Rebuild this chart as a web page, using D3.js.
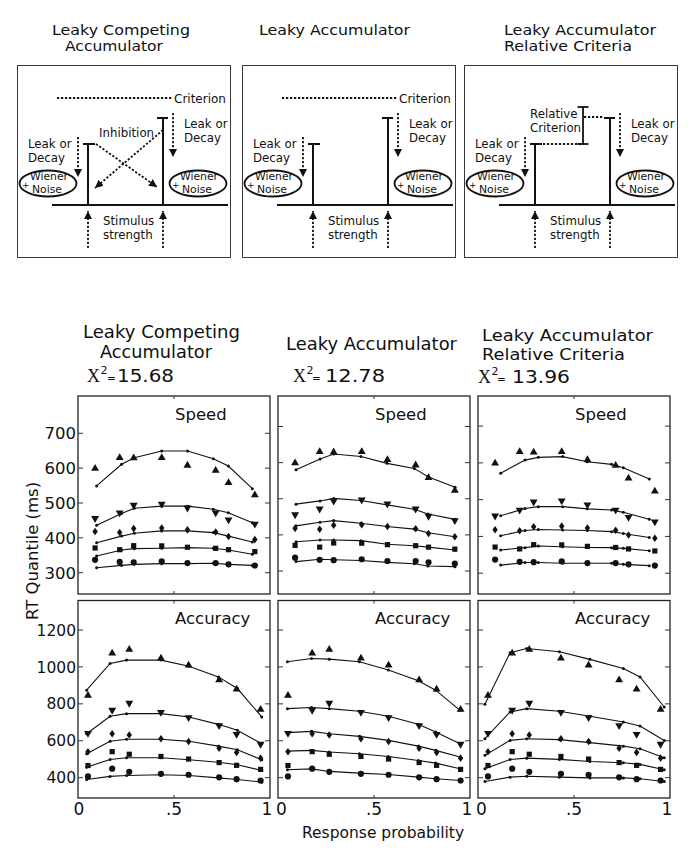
<!DOCTYPE html>
<html><head><meta charset="utf-8">
<script src="https://cdn.jsdelivr.net/npm/d3@7"></script>
<style>body{margin:0;background:#fff}svg{display:block}text{font-family:"DejaVu Sans",sans-serif;fill:#111}</style>
</head><body>
<svg id="c" width="693" height="856"></svg>
<script>
// ---------------- data ----------------
const topTitles = [["Leaky Competing","Accumulator"],["Leaky Accumulator"],["Leaky Accumulator","Relative Criteria"]];
const chiSquare = ["15.68","12.78","13.96"];
const conditions = ["Speed","Accuracy"];
const quantiles = [".1",".3",".5",".7",".9"];
const speedTicks = [300,400,500,600,700];
const accuracyTicks = [400,600,800,1000,1200];
const xTickValues = [0,0.5,1];
const xTickLabels = ["0",".5","1"];

// observed response probabilities (x) and RT quantiles
const speedObsP = [0.089,0.217,0.29,0.436,0.57,0.717,0.784,0.921];
const accObsP   = [0.052,0.178,0.267,0.432,0.576,0.735,0.826,0.951];
const speedObs = [
  [337,331,330,332.5,327.6,327.6,324,320.7],
  [371,366,377.5,377,373,370,366,360.5],
  [418,415.5,426.5,428,423,417,404,395],
  [456,472,494,497,486,472,452,440],
  [599,630,629,630,608,593,558,523]
];
const accObs = [
  [407,449,432,421,416,402,392,385],
  [466,541,527,515,501,482,467,445],
  [541,638,631,611,596,560,537,506],
  [641,766,804,755,726,683,635,582],
  [845,1074,1094,1047,1009,929,879,769]
];

// model fits
const lcaSpeedP = [0.097,0.227,0.293,0.436,0.571,0.705,0.783,0.908];
const lcaSpeedFit = [
  [314,321,324,326,326,327,324,321],
  [348,365,369,370,372,370,365,353],
  [386,405,413,420,420,415,405,388],
  [436,470,485,491,491,482,472,443],
  [549,611,630,649,649,627,606,541]
];
const laSpeedP = [0.094,0.219,0.29,0.432,0.568,0.71,0.781,0.922];
const laSpeedFit = [
  [326,332.5,331,329,324,320,314,312],
  [381,386,386,384,374,370,366,358],
  [425,435,439.5,432,423,416,406,395],
  [485,494,501,495,483,471,458,443],
  [580,610,624,617,598,584,561,532]
];
const larcSpeedP = [0.118,0.245,0.314,0.441,0.569,0.696,0.757,0.892];
const larcSpeedFit = [
  [322,329,329,327,327,327,324,320.5],
  [363,369.5,374,372,370,369.5,367.6,361],
  [402,416,419,417.5,416,413,408,397],
  [456,476,481,481,475,472,465.5,446.5],
  [572,607.5,615,617,603,596,587,556]
];
const lcaAccP = [0.045,0.167,0.253,0.432,0.578,0.731,0.83,0.957];
const lcaAccFit = [
  [390,407,412,416,412,399,390,376],
  [457,499,508,508,497,484,470,439],
  [530,597,608,608,597,571,551,497],
  [638,733,747,747,729,689,657,584],
  [874,1019,1037,1037,1004,946,883,729]
];
const laAccP = [0.049,0.175,0.267,0.424,0.575,0.731,0.821,0.948];
const laAccFit = [
  [443,448,434,425,417,403,394,385],
  [544,548,539,530,515,493,479,448],
  [644,651,638,624,602,571,548,512],
  [774,780,774,760,733,689,647,584],
  [1028,1046,1042,1028,983,925,874,765]
];
const larcAccP = [0.036,0.167,0.254,0.424,0.583,0.757,0.844,0.97];
const larcAccFit = [
  [379,403,408,403,399,399,394,379],
  [448,499,506,499,488,481,472,443],
  [521,602,611,606,590,571,557,508],
  [611,756,774,760,733,702,680,602],
  [798,1077,1100,1082,1041,992,946,783]
];

// ---------------- layout ----------------
const svg = d3.select("#c");
const ink = "#111";
svg.append("defs").append("marker").attr("id","ah")
  .attr("markerUnits","userSpaceOnUse").attr("markerWidth",9).attr("markerHeight",8)
  .attr("refX",8).attr("refY",4).attr("orient","auto")
  .append("path").attr("d","M0,0L8,4L0,8Z").attr("fill",ink);

function txt(g,s,x,y,size,opts={}){
  const t=g.append("text").attr("x",x).attr("y",y).style("font-size",size+"px").text(s);
  if(opts.anchor) t.attr("text-anchor",opts.anchor);
  if(opts.family) t.style("font-family",opts.family);
  if(opts.width) t.attr("textLength",opts.width).attr("lengthAdjust","spacingAndGlyphs");
  return t;
}
function ln(g,x1,y1,x2,y2,w,dotted,arrow){
  const l=g.append("line").attr("x1",x1).attr("y1",y1).attr("x2",x2).attr("y2",y2)
    .attr("stroke",ink).attr("stroke-width",w);
  if(dotted) l.attr("stroke-dasharray","2.2,1.8");
  if(arrow) l.attr("marker-end","url(#ah)");
  return l;
}

// ---------------- top diagrams ----------------
const boxX = [17,242,464];
// [x, baseline, width] per title line
const titleTop = [[[52,34.5,138],[65,50.5,98]],[[259,34.5,151]],[[504,34.5,152],[504,50.5,128]]];
topTitles.forEach((lines,i)=>{
  lines.forEach((s,j)=>{const [x,y,w]=titleTop[i][j]; txt(svg,s,x,y,14.2,{width:w});});
});
function diagram(x0,kind){
  const g=svg.append("g").attr("transform",`translate(${x0},0)`);
  g.append("rect").attr("x",0.5).attr("y",65.5).attr("width",213).attr("height",192)
    .attr("fill","none").attr("stroke","#3a3a3a").attr("stroke-width",1);
  const L=71,R=146,base=205,topL=144,topR=118;
  ln(g,35,base,211,base,2);
  ln(g,L,base,L,topL,2); ln(g,L-5,topL,L+7,topL,2);
  ln(g,R,base,R,topR,2); ln(g,R-6,topR,R+5,topR,2);
  if(kind!==2){ ln(g,40,98,156,98,1.8,true); txt(g,"Criterion",157,102.5,12); }
  // leak arrows
  ln(g,61,137,61,177,1.8,true,true);
  ln(g,156,113,156,157,1.8,true,true);
  txt(g,"Leak or",11,148,11.8); txt(g,"Decay",11,162,11.8);
  txt(g,"Leak or",167,128,11.8); txt(g,"Decay",167,142,11.8);
  // noise ellipses
  [31,181].forEach(cx=>{
    g.append("ellipse").attr("cx",cx).attr("cy",183.5).attr("rx",28.5).attr("ry",13)
      .attr("fill","none").attr("stroke",ink).attr("stroke-width",1.8);
    txt(g,"Wiener",cx-18,180,10.8); txt(g,"Noise",cx-16,193.2,10.8); txt(g,"+",cx-26,187.5,9);
  });
  // stimulus arrows
  ln(g,L,248,L,211,1.8,true,true); ln(g,R,248,R,211,1.8,true,true);
  txt(g,"Stimulus",86,225,11.8); txt(g,"strength",86,239,11.8);
  if(kind===0){
    txt(g,"Inhibition",82,137,11.8);
    ln(g,79,144,140,187,1.8,true,true);
    ln(g,146,130,78,188,1.8,true,true);
  }
  if(kind===2){
    ln(g,L,144,119,144,1.8,true);
    ln(g,119,107,119,144,1.8); ln(g,113.5,107,124.5,107,1.8); ln(g,113.5,144,124.5,144,1.8);
    ln(g,120,117,R-6,117,1.8,true);
    txt(g,"Relative",66,118,11.8); txt(g,"Criterion",66,132,11.8);
  }
}
boxX.forEach((x,i)=>diagram(x,i));

// ---------------- bottom panels ----------------
const panelLeft=[78,278,478], panelW=192;
const speedTop=396, speedBot=594, accTop=600.5, accBot=798;
const speedY300=[572.7,571,573.2], speedY700=[433.3,426.5,426.1];
const fitP = [[lcaSpeedP,lcaAccP],[laSpeedP,laAccP],[larcSpeedP,larcAccP]];
const fits = [[lcaSpeedFit,lcaAccFit],[laSpeedFit,laAccFit],[larcSpeedFit,larcAccFit]];
const obsP=[speedObsP,accObsP], obs=[speedObs,accObs];

// titles: [text, x, baseline, size, width]
const botTitles=[[["Leaky Competing",83,338,17,157],["Accumulator",100,358,17,112]],
  [["Leaky Accumulator",286,350,17.5,171]],
  [["Leaky Accumulator",482,341,16.4,171],["Relative Criteria",482,360,16.4,143]]];
botTitles.forEach(ls=>ls.forEach(([s,x,y,f,w])=>txt(svg,s,x,y,f,{width:w})));
// [X start, baseline, "=" x, number x, number width]
const chiPos=[[87,382,107,117,57],[293,382,312,325,60],[478,383,497,512,58]];
chiSquare.forEach((v,i)=>{
  const [xs,y,xe,xn,wn]=chiPos[i];
  txt(svg,"X",xs,y,18,{family:"'Liberation Serif',serif"});
  txt(svg,"2",xs+13.5,y-8,11);
  txt(svg,"=",xe,y,10.5);
  txt(svg,v,xn,y,18,{width:wn});
});

const tri={draw(ctx,size){const a=Math.sqrt(size*4/Math.sqrt(3));const h=a*Math.sqrt(3)/2;
  ctx.moveTo(0,-2*h/3);ctx.lineTo(a/2,h/3);ctx.lineTo(-a/2,h/3);ctx.closePath();}};
const triD={draw(ctx,size){const a=Math.sqrt(size*4/Math.sqrt(3));const h=a*Math.sqrt(3)/2;
  ctx.moveTo(0,2*h/3);ctx.lineTo(a/2,-h/3);ctx.lineTo(-a/2,-h/3);ctx.closePath();}};
const dia={draw(ctx,size){const w=Math.sqrt(size/0.75)/2, h=w*1.4;
  ctx.moveTo(0,-h);ctx.lineTo(w,0);ctx.lineTo(0,h);ctx.lineTo(-w,0);ctx.closePath();}};
const symTypes=[[d3.symbolCircle,30],[d3.symbolSquare,27],[dia,22],[triD,27],[tri,27]];

panelLeft.forEach((left,m)=>{
  const x=d3.scaleLinear([0,1],[left,left+panelW]);
  const yS=d3.scaleLinear([300,700],[speedY300[m],speedY700[m]]);
  const yA=d3.scaleLinear([400,1200],[777.7,630]);
  const ys=[yS,yA], ticks=[speedTicks,accuracyTicks], tops=[speedTop,accTop], bots=[speedBot,accBot];
  [0,1].forEach(c=>{
    const g=svg.append("g");
    const y=ys[c];
    g.append("rect").attr("x",left).attr("y",tops[c]).attr("width",panelW).attr("height",bots[c]-tops[c])
      .attr("fill","none").attr("stroke","#222").attr("stroke-width",1.3);
    ticks[c].forEach(t=>{
      ln(g,left,y(t),left+5,y(t),1).attr("stroke","#333");
      ln(g,left+panelW,y(t),left+panelW-5,y(t),1).attr("stroke","#333");
      if(m===0) txt(g,String(t),76,y(t),c===0?16.5:15.5,{anchor:"end"}).attr("dy","0.36em");
    });
    ln(g,x(0.5),bots[c],x(0.5),bots[c]-3,1).attr("stroke","#333");
    ln(g,x(0.5),tops[c],x(0.5),tops[c]+3,1).attr("stroke","#333");
    txt(g,conditions[c],left+97,c===0?420:624,16.5);
    const P=fitP[m][c];
    const line=d3.line().x((d,i)=>x(P[i])).y(d=>y(d));
    fits[m][c].forEach(series=>{
      g.append("path").attr("d",line(series)).attr("fill","none").attr("stroke",ink).attr("stroke-width",1.1);
      g.selectAll(null).data(series).enter().append("circle")
        .attr("cx",(d,i)=>x(P[i])).attr("cy",d=>y(d)).attr("r",1.5).attr("fill",ink);
    });
    obs[c].forEach((series,q)=>{
      const sym=d3.symbol().type(symTypes[q][0]).size(symTypes[q][1]);
      g.selectAll(null).data(series).enter().append("path")
        .attr("d",sym).attr("fill",ink)
        .attr("transform",(d,i)=>`translate(${x(obsP[c][i])},${y(d)})`);
    });
  });
  const xoff=[m===0?1:3.5,0,-3];
  xTickValues.forEach((v,i)=>txt(svg,xTickLabels[i],x(v)+xoff[i],815,17,{anchor:"middle"}));
});

svg.append("text").attr("transform","translate(38,551) rotate(-90)").attr("text-anchor","middle")
  .style("font-size","16.5px").text("RT Quantile (ms)");
txt(svg,"Response probability",302,838,15.5);
</script>
</body></html>
